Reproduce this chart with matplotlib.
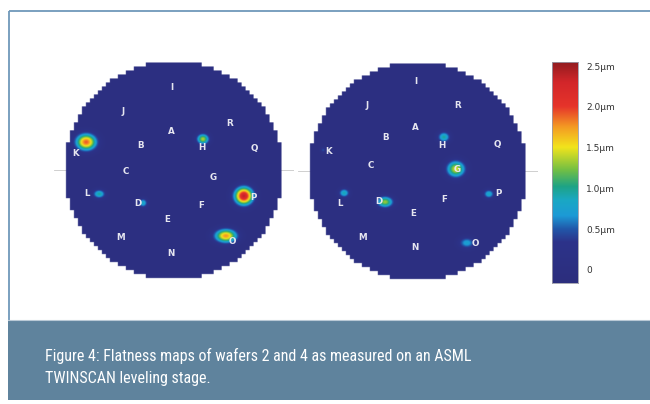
"""Flatness maps of two wafers with a shared height colour scale."""

import numpy as np
import matplotlib.pyplot as plt
from matplotlib.colors import LinearSegmentedColormap, Normalize
from matplotlib.patches import Rectangle

W, H = 650, 404

# die site labels, offsets from the wafer centre (wafer radius = 110)
SITE_NAMES = ["I", "J", "R", "A", "B", "H", "K", "Q", "C",
              "G", "L", "D", "F", "P", "E", "M", "O", "N"]
W2_SITE_X = [-2, -51, 56, -3, -33, 28, -98, 80, -48,
             39, -87, -36, 27, 79, -7, -53, 58, -3]
W2_SITE_Y = [82, 58, 47, 38, 25, 22, 17, 21, -2,
             -7, -24, -34, -36, -27, -49, -68, -71, -84]
W4_SITE_X = [-2, -51, 40, -3, -32, 24, -89, 79, -47,
             39, -78, -39, 26, 80, -5, -55, 57, -3]
W4_SITE_Y = [89, 66, 65, 44, 33, 25, 19, 26, 6,
             1, -33, -31, -29, -22, -42, -67, -72, -77]

# hot spots: centre offsets, peak height (um) and spread
W2_SPOT_X = [-88, 29, -75, -31, 70, 52]
W2_SPOT_Y = [28, 31, -24, -33, -26, -66]
W2_SPOT_PEAK = [1.9, 1.35, 0.95, 0.85, 2.35, 1.75]
W2_SPOT_SX = [7.0, 4.2, 4.2, 3.0, 6.3, 7.5]
W2_SPOT_SY = [5.6, 3.6, 3.0, 3.0, 6.0, 4.6]

W4_SPOT_X = [26, 38, -74, -33, 71, 49, -95]
W4_SPOT_Y = [34, 2, -22, -31, -23, -72, 21]
W4_SPOT_PEAK = [0.95, 1.45, 0.9, 1.3, 0.85, 0.75, 0.45]
W4_SPOT_SX = [4.2, 6.3, 3.6, 5.5, 3.6, 5.5, 2.0]
W4_SPOT_SY = [3.6, 5.6, 3.0, 3.8, 3.0, 3.8, 2.0]

# colour scale ticks
CBAR_TICKS = [0, 0.5, 1.0, 1.5, 2.0, 2.5]
CBAR_LABELS = ["0", "0.5\u03bcm", "1.0\u03bcm", "1.5\u03bcm", "2.0\u03bcm", "2.5\u03bcm"]

CAPTION = ("Figure 4: Flatness maps of wafers 2 and 4 as measured on an ASML\n"
           "TWINSCAN leveling stage.")

VMIN, VMAX = -0.16, 2.55
stops = [
    (VMIN, "#2c2e7d"), (0.34, "#2d338a"), (0.50, "#2158aa"),
    (0.66, "#1d9ad6"), (0.85, "#1aa8c4"), (1.02, "#1ea385"),
    (1.22, "#72bf44"), (1.50, "#f2e41c"), (1.75, "#f49a23"),
    (2.00, "#e6342b"), (2.30, "#d2262a"), (VMAX, "#8f1b1f"),
]
cmap = LinearSegmentedColormap.from_list(
    "flat", [((v - VMIN) / (VMAX - VMIN), c) for v, c in stops])
norm = Normalize(VMIN, VMAX)


def px_axes(fig, x0, y0, w, h):
    return fig.add_axes([x0 / W, 1 - (y0 + h) / H, w / W, h / H])


def wafer_image(sx, sy, peak, wx, wy, radius=110, cell=4.0):
    g = np.arange(-120, 120.5, 0.5)
    xx, yy = np.meshgrid(g, g)
    z = np.zeros_like(xx)
    for x0, y0, a, s1, s2 in zip(sx, sy, peak, wx, wy):
        z += a * np.exp(-((xx - x0) ** 2 / (2 * s1 ** 2) + (yy - y0) ** 2 / (2 * s2 ** 2)))
    z = np.minimum(z, 2.45)
    # stepped wafer edge from the measurement grid
    cx = (np.floor(xx / cell) + 0.5) * cell
    cy = (np.floor(yy / cell) + 0.5) * cell
    inside = np.hypot(cx, cy) <= radius
    rgba = cmap(norm(z))
    rgba[..., 3] = inside.astype(float)
    return rgba


def draw_wafer(ax, spots, sites):
    ax.set_xlim(-120, 120)
    ax.set_ylim(-120, 120)
    ax.axis("off")
    ax.plot([-120, 120], [0, 0], color="#c8c8c8", lw=0.6, zorder=0)
    rgba = wafer_image(*spots)
    ax.imshow(rgba, extent=(-120, 120, -120, 120), origin="lower",
              interpolation="bilinear", zorder=1)
    sx, sy = sites
    for name, x, y in zip(SITE_NAMES, sx, sy):
        ax.text(x, y, name, color="#e6e6f0", fontsize=6.3, fontweight="bold",
                ha="center", va="center", zorder=2)


fig = plt.figure(figsize=(W / 100, H / 100), dpi=100)

# panel frame and caption band
frame = fig.add_axes([0, 0, 1, 1])
frame.set_xlim(0, W)
frame.set_ylim(H, 0)
frame.axis("off")
frame.add_patch(Rectangle((8.5, 10.5), 660, 310, fill=False,
                          edgecolor="#6f98ba", lw=1.3))
frame.add_patch(Rectangle((8, 320), 660, 80, facecolor="#5f839d",
                          edgecolor="none"))
frame.add_line(plt.Line2D([8, 650], [320, 320], color="#b9c9d6", lw=0.8))
frame.text(45, 367, CAPTION, color="white", fontsize=11.5,
           family=["Liberation Sans Narrow", "Roboto Condensed", "DejaVu Sans"],
           ha="left", va="center", linespacing=1.55)

ax1 = px_axes(fig, 174 - 120, 170 - 120, 240, 240)
draw_wafer(ax1, (W2_SPOT_X, W2_SPOT_Y, W2_SPOT_PEAK, W2_SPOT_SX, W2_SPOT_SY),
           (W2_SITE_X, W2_SITE_Y))
ax2 = px_axes(fig, 418 - 120, 171 - 120, 240, 240)
draw_wafer(ax2, (W4_SPOT_X, W4_SPOT_Y, W4_SPOT_PEAK, W4_SPOT_SX, W4_SPOT_SY),
           (W4_SITE_X, W4_SITE_Y))

# colour bar
cax = px_axes(fig, 552, 62, 26, 221)
grad = np.linspace(VMIN, VMAX, 256).reshape(-1, 1)
cax.imshow(grad, cmap=cmap, norm=norm, aspect="auto", origin="lower",
           extent=(0, 1, VMIN, VMAX))
cax.set_xlim(0, 1)
cax.set_ylim(VMIN, VMAX)
cax.set_xticks([])
cax.yaxis.tick_right()
cax.set_yticks(CBAR_TICKS)
cax.set_yticklabels(CBAR_LABELS)
cax.tick_params(axis="y", length=0, pad=6, labelsize=6.5, labelcolor="#333333")
for s in cax.spines.values():
    s.set_edgecolor("#9a9aa8")
    s.set_linewidth(0.6)

fig.savefig("out.png", dpi=100)
